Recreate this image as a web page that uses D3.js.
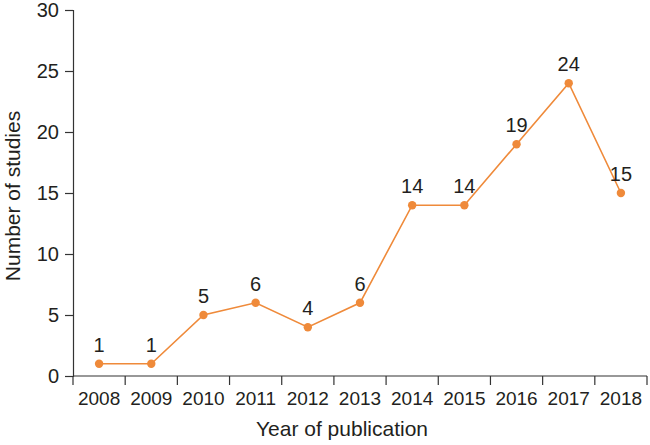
<!DOCTYPE html>
<html>
<head>
<meta charset="utf-8">
<script src="https://cdn.jsdelivr.net/npm/d3@7"></script>
<style>
  body { margin: 0; background: #fff; }
  text { font-family: "Liberation Sans", Arial, sans-serif; fill: #231f20; }
</style>
</head>
<body>
<div id="vis"></div>
<script>
const width = 650;
const height = 445;

const years = ["2008", "2009", "2010", "2011", "2012", "2013", "2014", "2015", "2016", "2017", "2018"];
const studies = [1, 1, 5, 6, 4, 6, 14, 14, 19, 24, 15];
const yTicks = [0, 5, 10, 15, 20, 25, 30];

const data = years.map((y, i) => ({ year: y, value: studies[i] }));

const margin = { top: 10, right: 3, bottom: 69, left: 73 };

const svg = d3.select("#vis")
  .append("svg")
  .attr("width", width)
  .attr("height", height);

const x = d3.scaleBand()
  .domain(years)
  .range([margin.left, width - margin.right]);

const y = d3.scaleLinear()
  .domain([0, 30])
  .range([height - margin.bottom, margin.top]);

const axisColor = "#333";
const orange = "#ef8a3a";

// y axis
const yAxis = svg.append("g")
  .attr("transform", `translate(${margin.left},0)`)
  .call(d3.axisLeft(y).tickValues(yTicks).tickSize(8).tickPadding(6));
yAxis.select(".domain").attr("stroke", axisColor).attr("stroke-width", 1.2);
yAxis.selectAll(".tick line").attr("stroke", axisColor).attr("stroke-width", 1.2);
yAxis.selectAll(".tick text")
  .attr("font-size", "20px")
  .attr("font-family", "Liberation Sans, Arial, sans-serif")
  .attr("fill", "#231f20");

// x axis: ticks at band boundaries
const bounds = years.map(d => x(d)).concat([x.range()[1]]);
const xg = svg.append("g");
xg.append("line")
  .attr("x1", x.range()[0])
  .attr("x2", x.range()[1])
  .attr("y1", y(0))
  .attr("y2", y(0))
  .attr("stroke", axisColor)
  .attr("stroke-width", 1.2);
xg.selectAll("line.tk")
  .data(bounds)
  .enter()
  .append("line")
  .attr("class", "tk")
  .attr("x1", d => d)
  .attr("x2", d => d)
  .attr("y1", y(0))
  .attr("y2", y(0) + 9)
  .attr("stroke", axisColor)
  .attr("stroke-width", 1.2);
xg.selectAll("text")
  .data(years)
  .enter()
  .append("text")
  .attr("x", d => x(d) + x.bandwidth() / 2)
  .attr("y", y(0) + 29)
  .attr("text-anchor", "middle")
  .attr("font-size", "19px")
  .text(d => d);

// axis titles
svg.append("text")
  .attr("x", 342)
  .attr("y", 436)
  .attr("text-anchor", "middle")
  .attr("font-size", "21px")
  .text("Year of publication");

svg.append("text")
  .attr("transform", `translate(20,${y(15) + 3}) rotate(-90)`)
  .attr("text-anchor", "middle")
  .attr("font-size", "21px")
  .text("Number of studies");

// line
svg.append("path")
  .datum(data)
  .attr("fill", "none")
  .attr("stroke", orange)
  .attr("stroke-width", 1.6)
  .attr("d", d3.line()
    .x(d => x(d.year) + x.bandwidth() / 2)
    .y(d => y(d.value)));

svg.selectAll("circle")
  .data(data)
  .enter()
  .append("circle")
  .attr("cx", d => x(d.year) + x.bandwidth() / 2)
  .attr("cy", d => y(d.value))
  .attr("r", 4.2)
  .attr("fill", orange);

svg.selectAll("text.lbl")
  .data(data)
  .enter()
  .append("text")
  .attr("class", "lbl")
  .attr("x", d => x(d.year) + x.bandwidth() / 2)
  .attr("y", d => y(d.value) - 12)
  .attr("text-anchor", "middle")
  .attr("font-size", "20px")
  .text(d => d.value);
</script>
</body>
</html>
